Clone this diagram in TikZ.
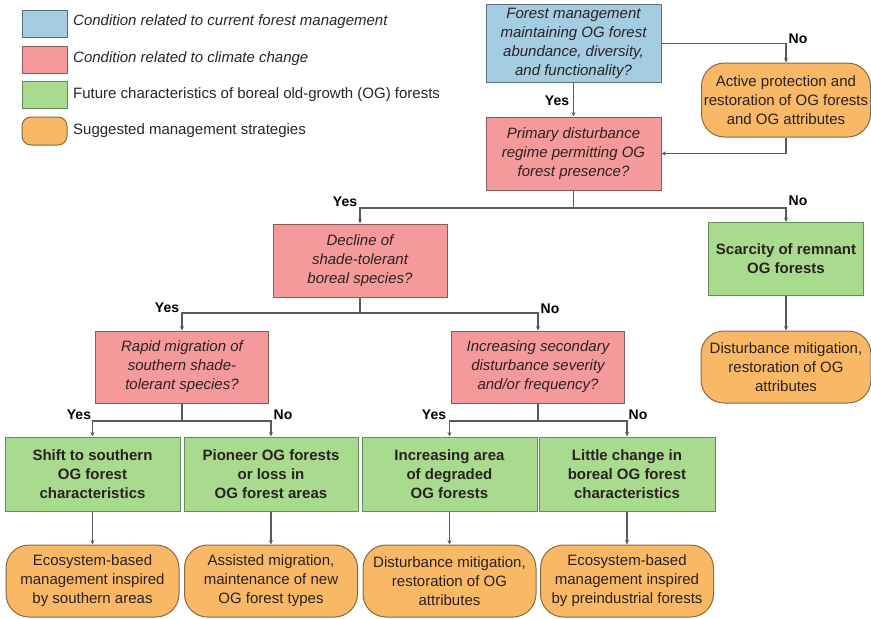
\documentclass[tikz,border=0pt]{standalone}
\usepackage{fontspec}
\setmainfont{Liberation Sans}
\usetikzlibrary{arrows.meta}
\definecolor{bfill}{HTML}{A4CDE2}
\definecolor{bdraw}{HTML}{5B6E7A}
\definecolor{rfill}{HTML}{F59A9B}
\definecolor{rdraw}{HTML}{8A5A5A}
\definecolor{gfill}{HTML}{A9DB8E}
\definecolor{gdraw}{HTML}{6A8A5C}
\definecolor{ofill}{HTML}{F8B866}
\definecolor{odraw}{HTML}{8A6A3C}
\definecolor{linec}{HTML}{5A5A5A}
\definecolor{txt}{HTML}{2A2222}
\begin{document}
\begin{tikzpicture}[x=1pt,y=-1pt,
  base/.style={line width=1pt, inner sep=0pt, align=center, text=txt,
    font=\fontsize{15}{19}\selectfont},
  bluebox/.style={base, draw=bdraw, fill=bfill, font=\fontsize{15}{19}\selectfont\itshape},
  redbox/.style={base, draw=rdraw, fill=rfill, font=\fontsize{15}{19}\selectfont\itshape},
  greenbox/.style={base, draw=gdraw, fill=gfill, font=\fontsize{15}{19}\selectfont\bfseries},
  orangebox/.style={base, draw=odraw, fill=ofill, rounded corners=23pt},
  legbox/.style={line width=1pt, inner sep=0pt, minimum width=45pt, minimum height=27pt},
  legtxt/.style={anchor=west, inner sep=0pt, text=black!85, font=\fontsize{15}{18}\selectfont},
  lbl/.style={inner sep=0pt, text=black, font=\fontsize{14}{17}\selectfont\bfseries},
  conn/.style={draw=linec, line width=1.1pt},
  arr/.style={conn, -{Stealth[length=4.5pt,width=4pt]}}
]
\useasboundingbox (0,0) rectangle (871,619);

% legend
\node[legbox, draw=bdraw, fill=bfill] (lb) at (44.5,23.5) {};
\node[legbox, draw=rdraw, fill=rfill] (lr) at (44.5,59.5) {};
\node[legbox, draw=gdraw, fill=gfill] (lg) at (44.5,94.5) {};
\node[legbox, draw=odraw, fill=ofill, rounded corners=9pt, minimum height=28pt] (lo) at (44.5,131) {};
\node[legtxt] (tb) at (73,22) {\itshape Condition related to current forest management};
\node[legtxt] (tr) at (73,59) {\itshape Condition related to climate change};
\node[legtxt] (tg) at (73,95) {Future characteristics of boreal old-growth (OG) forests};
\node[legtxt] (to) at (73,131) {Suggested management strategies};

% top level
\node[bluebox, minimum width=175pt, minimum height=78pt] (q1) at (573.5,43.5)
  {Forest management\\maintaining OG forest\\abundance, diversity,\\and functionality?};
\node[orangebox, minimum width=169pt, minimum height=74pt] (a1) at (786,100)
  {Active protection and\\restoration of OG forests\\and OG attributes};
\node[redbox, minimum width=175pt, minimum height=73pt] (q2) at (573.5,153.5)
  {Primary disturbance\\regime permitting OG\\forest presence?};

\node[redbox, minimum width=174pt, minimum height=73pt] (q3) at (360,260.5)
  {Decline of\\shade-tolerant\\boreal species?};
\node[greenbox, minimum width=155pt, minimum height=73pt] (g5) at (786,259)
  {Scarcity of remnant\\OG forests};
\node[orangebox, minimum width=170pt, minimum height=72pt] (s5) at (786,367)
  {Disturbance mitigation,\\restoration of OG\\attributes};

\node[redbox, minimum width=173pt, minimum height=72pt] (q4) at (182,367)
  {Rapid migration of\\southern shade-\\tolerant species?};
\node[redbox, minimum width=173pt, minimum height=72pt] (q5) at (538,367)
  {Increasing secondary\\disturbance severity\\and/or frequency?};

\node[greenbox, minimum width=175pt, minimum height=74pt] (g1) at (92.5,474)
  {Shift to southern\\OG forest\\characteristics};
\node[greenbox, minimum width=174pt, minimum height=74pt] (g2) at (271,474)
  {Pioneer OG forests\\or loss in\\OG forest areas};
\node[greenbox, minimum width=175pt, minimum height=74pt] (g3) at (449.5,474)
  {Increasing area\\of degraded\\OG forests};
\node[greenbox, minimum width=176pt, minimum height=74pt] (g4) at (627,474)
  {Little change in\\boreal OG forest\\characteristics};

\node[orangebox, minimum width=173pt, minimum height=72pt] (s1) at (92.5,581)
  {Ecosystem-based\\management inspired\\by southern areas};
\node[orangebox, minimum width=173pt, minimum height=72pt] (s2) at (271,581)
  {Assisted migration,\\maintenance of new\\OG forest types};
\node[orangebox, minimum width=173pt, minimum height=72pt] (s3) at (449.5,581)
  {Disturbance mitigation,\\restoration of OG\\attributes};
\node[orangebox, minimum width=173pt, minimum height=72pt] (s4) at (627,581)
  {Ecosystem-based\\management inspired\\by preindustrial forests};

% junctions
\coordinate (j2) at (573.5,208);
\coordinate (j3) at (360,313);
\coordinate (j4) at (182,421);
\coordinate (j5) at (538,421);

% connectors
\draw[arr] (q1.east) -| (a1.north);
\draw[arr] (q1.south) -- (q2.north);
\draw[arr] (a1.south) |- (q2.east);
\draw[conn] (q2.south) -- (j2);
\draw[arr] (j2) -| (q3.north);
\draw[arr] (j2) -| (g5.north);
\draw[arr] (g5.south) -- (s5.north);
\draw[conn] (q3.south) -- (j3);
\draw[arr] (j3) -| (q4.north);
\draw[arr] (j3) -| (q5.north);
\draw[conn] (q4.south) -- (j4);
\draw[arr] (j4) -| (g1.north);
\draw[arr] (j4) -| (g2.north);
\draw[conn] (q5.south) -- (j5);
\draw[arr] (j5) -| (g3.north);
\draw[arr] (j5) -| (g4.north);
\draw[arr] (g1.south) -- (s1.north);
\draw[arr] (g2.south) -- (s2.north);
\draw[arr] (g3.south) -- (s3.north);
\draw[arr] (g4.south) -- (s4.north);

% labels
\node[lbl] (l1) at (798,39) {No};
\node[lbl] (l2) at (557,101) {Yes};
\node[lbl] (l3) at (345,202) {Yes};
\node[lbl] (l4) at (798,201) {No};
\node[lbl] (l5) at (167,308) {Yes};
\node[lbl] (l6) at (550,309) {No};
\node[lbl] (l7) at (79,415) {Yes};
\node[lbl] (l8) at (283,415) {No};
\node[lbl] (l9) at (434,415) {Yes};
\node[lbl] (l10) at (638,415) {No};
\end{tikzpicture}
\end{document}
